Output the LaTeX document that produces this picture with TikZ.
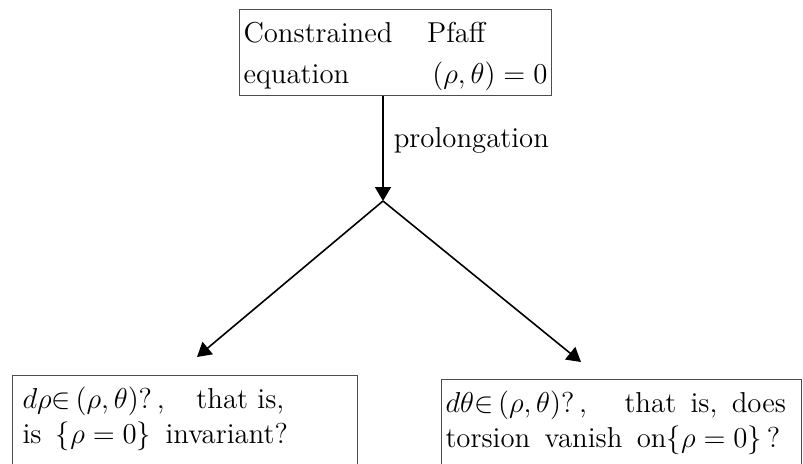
\documentclass[tikz,border=0pt]{standalone}
\usepackage{fontspec}
\usetikzlibrary{arrows.meta}
\definecolor{Ink}{HTML}{000000}
\definecolor{Frame}{HTML}{4D4D4D}
\tikzset{
  bx/.style={rectangle,draw=Frame,line width=0.5pt,inner sep=2pt,text height=14.5pt,font=\fontsize{14.4}{17.5}\selectfont},
  arr/.style={draw=Ink,line width=0.8pt,-{Triangle[length=7pt,width=8pt]}},
  lbl/.style={font=\fontsize{14.4}{16}\selectfont,text=Ink,inner sep=1pt},
}
\begin{document}
\begin{tikzpicture}[x=0.5pt,y=-0.5pt]
\useasboundingbox (0,0) rectangle (803,463);
% Pfaff box on top, two questions below (cut by the page edge).
\node[bx,anchor=north west,text depth=24.5pt,font=\fontsize{14.4}{20.5}\selectfont] (pfaff) at (239,9) {\parbox[t]{152pt}{Constrained\hspace{1.2em}Pfaff\\equation\hfill$(\rho,\theta)=0$}};
\node[bx,anchor=north west,inner xsep=5pt,text depth=45pt] (drho) at (12,375) {\parbox[t]{162.5pt}{$d\rho{\in}\,(\rho,\theta)?$\,,\hspace{1.1em}that is,\\is\enspace$\{\rho=0\}$\enspace invariant?}};
\node[bx,anchor=north west,text depth=45pt] (dtheta) at (441,379) {\parbox[t]{176pt}{$d\theta{\in}\,(\rho,\theta)?$\,,\hspace{1.3em}that\enspace is,\enspace does\\torsion\enspace vanish\enspace on$\{\rho=0\}$\,?}};
\coordinate (fork) at (383,201);
\coordinate (lend) at (197,357);
\coordinate (rend) at (581,362);
\draw[arr] (pfaff.south -| fork) -- node[lbl,pos=.42,right=4pt] (prol) {prolongation} (fork);
\draw[arr] (fork) -- (lend);
\draw[arr] (fork) -- (rend);
\end{tikzpicture}
\end{document}
